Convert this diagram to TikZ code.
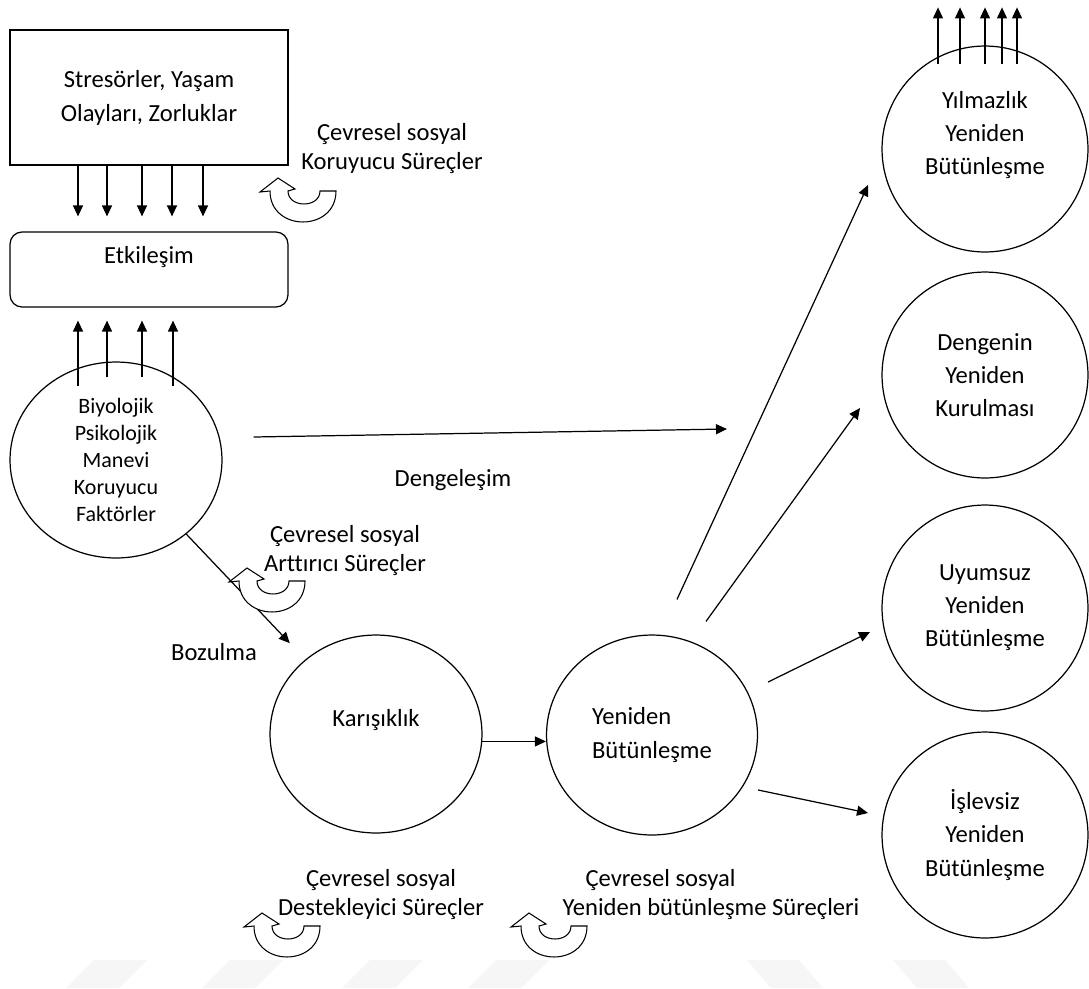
\documentclass[tikz,border=0pt]{standalone}
\usepackage{fontspec}
\setmainfont{Carlito}[Ligatures=NoCommon]
\usetikzlibrary{arrows.meta,shapes.geometric}

\begin{document}
\begin{tikzpicture}[x=0.02cm,y=-0.02cm,line width=0.7pt,
  >={Triangle[length=0.22cm,width=0.2cm]},
  every node/.style={inner sep=0pt,align=center,font=\fontsize{14}{16.5}\selectfont},
  ring/.style={draw,ellipse,minimum width=4.12cm,minimum height=4.12cm,font=\fontsize{14}{18.8}\selectfont},
  uturn/.pic={\draw[fill=white,line width=0.6pt] (0,0) -- (17,11) -- (10,13)
     .. controls (10,30.3) and (42,30.3) .. (42,13) -- (58,13)
     .. controls (58,54.3) and (-8,54.3) .. (-8,13) -- (-18,14) -- cycle;}]

  \fill[white] (0,0) rectangle (1089,988);
  \useasboundingbox (0,0) rectangle (1089,988);
  % watermark stripes
  \foreach \b in {66,202,342,468}
    \fill[gray!7] (\b,988) -- (\b+28,960) -- (\b+81,960) -- (\b+53,988) -- cycle;
  \foreach \b in {747,893}
    \fill[gray!7] (\b,960) -- (\b+52,960) -- (\b+76,988) -- (\b+24,988) -- cycle;

  \node[draw,minimum width=5.56cm,minimum height=2.7cm,font=\fontsize{14}{19.4}\selectfont]
    (stres) at (149,97.5) {Stresörler, Yaşam\\Olayları, Zorluklar};
  \node[draw,rounded corners=0.24cm,minimum width=5.56cm,minimum height=1.5cm,
    text height=0.62cm,text depth=0.88cm] (etki) at (149,269.5) {Etkileşim};
  \node[draw,ellipse,minimum width=4.24cm,minimum height=3.92cm,font=\fontsize{12.5}{15.4}\selectfont]
    (biyo) at (116,460) {Biyolojik\\Psikolojik\\Manevi\\Koruyucu\\Faktörler};
  \node[ring,minimum width=4.24cm,minimum height=3.96cm] (kar) at (376,734) {Karışıklık\\\mbox{}};
  \node[ring,minimum width=4.22cm,minimum height=4cm,align=left] (yen) at (652,735) {Yeniden\\Bütünleşme};
  \node[ring] (yil) at (985,149) {Yılmazlık\\Yeniden\\Bütünleşme\\\mbox{}};
  \node[ring] (den) at (985,375) {Dengenin\\Yeniden\\Kurulması};
  \node[ring] (uyu) at (985,608) {Uyumsuz\\Yeniden\\Bütünleşme};
  \node[ring] (isl) at (985,835) {İşlevsiz\\Yeniden\\Bütünleşme};

  \node (kor) at (392,149) {Çevresel sosyal\\Koruyucu Süreçler};
  \node (art) at (345,551) {Çevresel sosyal\\Arttırıcı Süreçler};
  \node (des) at (381,895) {Çevresel sosyal\\Destekleyici Süreçler};
  \node[align=left] (ybs) at (711,895) {\hspace*{0.46cm}Çevresel sosyal\\Yeniden bütünleşme Süreçleri};
  \node (deng) at (453,480) {Dengeleşim};
  \node (boz) at (214,652) {Bozulma};

  \coordinate (dengE) at (727,429);
  \coordinate (p1) at (868,185);
  \coordinate (p2) at (860,408);
  \coordinate (p3) at (870,632);
  \coordinate (p4) at (868,813);

  \foreach \x in {78,107,142,172,203}
    \draw[->,shorten >=0.3cm] (\x,0 |- stres.south) -- (\x,0 |- etki.north);
  \foreach \x/\d in {78/25,107/16,142/16,173/25}
    \draw[->,shorten >=0.26cm] (\x,0 |- biyo.north) ++(0,\d) -- (\x,0 |- etki.south);
  \foreach \x in {938,960,985,1002,1017}
    \draw[->] (\x,0 |- yil.north) ++(0,19) -- ++(0,-57);

  \draw[->] (biyo.east) ++(31,-23) -- (dengE);
  \draw[->,shorten >=0.45cm] (biyo) -- (kar);
  \draw[->] (kar.-4) -- (kar.-4 -| yen.west);
  \draw[->] (yen.north) ++(25,-35) -- (p1);
  \draw[->] (yen.north) ++(54,-13) -- (p2);
  \draw[->] (yen.east) ++(10,-53) -- (p3);
  \draw[->] (yen.east) ++(0,55) -- (p4);

  \pic at (278,178) {uturn};
  \pic at (247,568) {uturn};
  \pic at (262,913) {uturn};
  \pic at (529,913) {uturn};
\end{tikzpicture}
\end{document}
